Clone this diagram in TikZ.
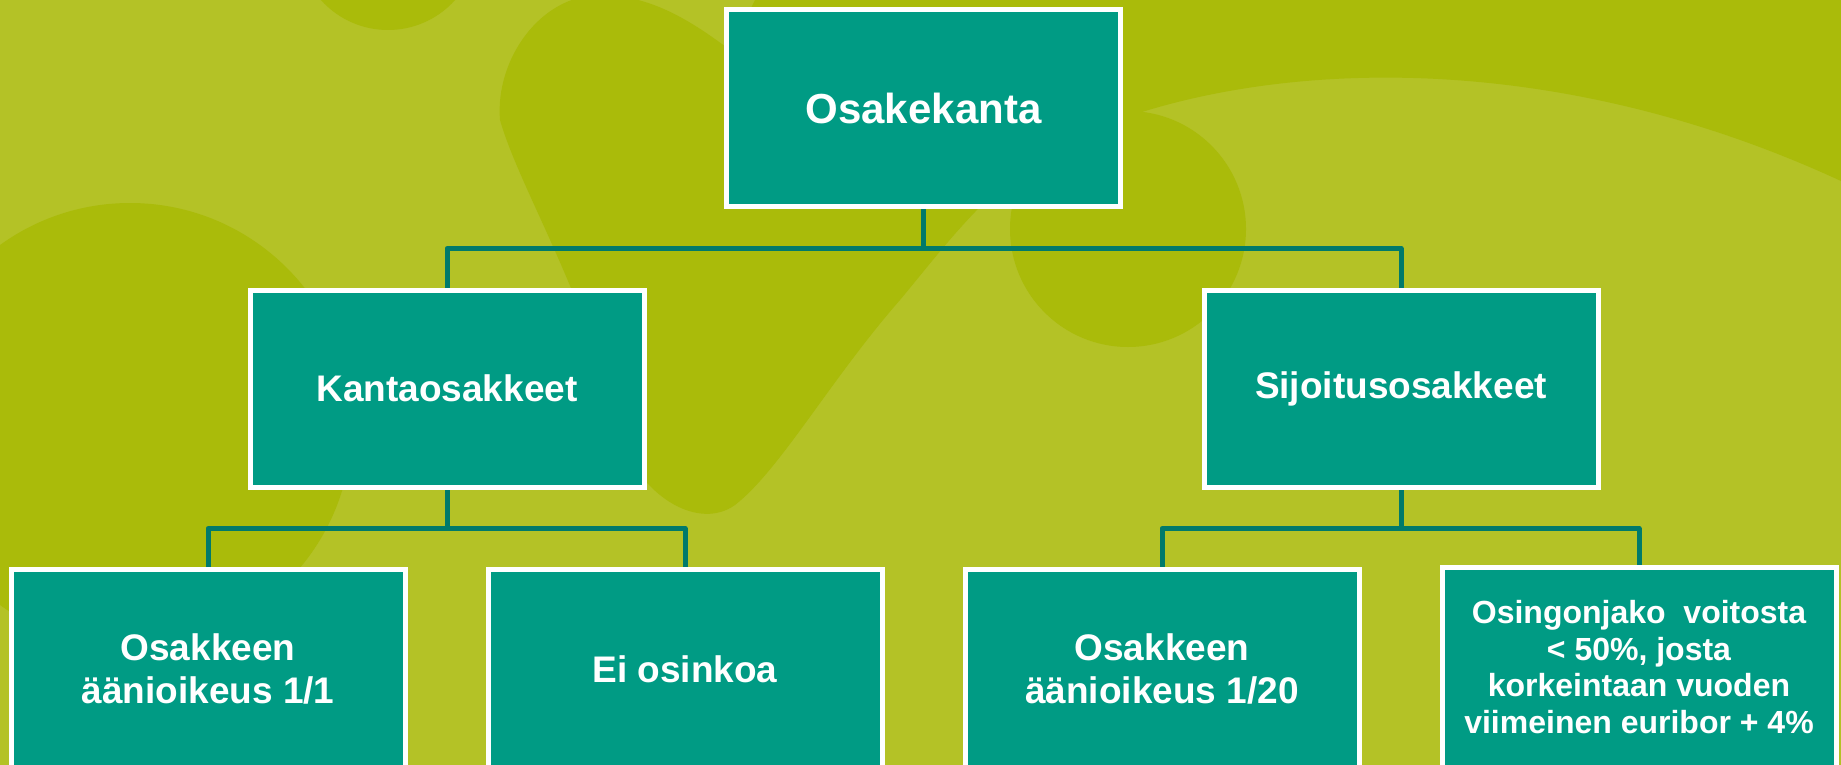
\documentclass[tikz,border=0pt]{standalone}
\usepackage{fontspec}
\setmainfont{Liberation Sans}
\definecolor{bglight}{RGB}{180,194,38}
\definecolor{bgdark}{RGB}{170,187,10}
\definecolor{boxfill}{RGB}{0,155,132}
\definecolor{linkcol}{RGB}{0,122,106}
\pgfdeclarelayer{bg}
\pgfdeclarelayer{links}
\pgfsetlayers{bg,links,main}
\begin{document}
\begin{tikzpicture}[x=0.5pt,y=-0.5pt,
  orgbox/.style={draw=white, line width=2.5pt, fill=boxfill, text=white,
    minimum width=197pt, minimum height=98.5pt, inner sep=0pt, align=center,
    font=\bfseries\fontsize{18.5}{21.5}\selectfont},
  topbox/.style={orgbox, font=\bfseries\fontsize{21}{25}\selectfont},
  lowbox/.style={orgbox, minimum height=100pt},
  smallbox/.style={lowbox, font=\bfseries\fontsize{16}{18.2}\selectfont},
  link/.style={draw=linkcol, line width=2.5pt, line join=round}]
\useasboundingbox (0,0) rectangle (1841,765);

\begin{pgfonlayer}{bg}
  \fill[bglight] (0,0) rectangle (1841,765);
  % decorative darker blobs
  \fill[bgdark] (388,-60) circle[radius=90];
  \fill[bgdark] (130,425) circle[radius=222];
  \fill[bgdark] (600,-5) .. controls (540,-5) and (495,60) .. (500,120)
    .. controls (520,190) and (590,300) .. (620,440)
    .. controls (645,500) and (700,530) .. (735,505)
    .. controls (780,470) and (830,380) .. (900,300)
    .. controls (950,240) and (1000,170) .. (1080,135)
    .. controls (1250,60) and (1550,40) .. (1860,190)
    -- (1860,-10) -- (760,-10) -- (730,50)
    .. controls (690,20) and (650,-5) .. (600,-5) -- cycle;
  \fill[bgdark] (1128,229) circle[radius=118];
\end{pgfonlayer}

% boxes
\node[topbox] (top) at (923.5,108) {Osakekanta};
\node[orgbox] (kanta) at (447,388.5) {Kantaosakkeet};
\node[orgbox] (sijo) at (1401,388.5) {Sijoitusosakkeet};
\node[lowbox] (b1) at (208,669) {Osakkeen\\äänioikeus 1/1};
\node[lowbox] (b2) at (685,669) {Ei osinkoa};
\node[lowbox] (b3) at (1162,669) {Osakkeen\\äänioikeus 1/20};
\node[smallbox] (b4) at (1639,667) {Osingonjako~ voitosta\\< 50\%, josta\\korkeintaan vuoden\\viimeinen euribor + 4\%};

% connectors
\begin{pgfonlayer}{links}
  \draw[link] (top.south) -- ++(0,39.5) coordinate (bus1);
  \draw[link] (kanta.north) |- (bus1) -| (sijo.north);
  \draw[link] (kanta.south) -- ++(0,39) coordinate (bus2);
  \draw[link] (b1.north) |- (bus2) -| (b2.north);
  \draw[link] (sijo.south) -- ++(0,39) coordinate (bus3);
  \draw[link] (b3.north) |- (bus3) -| (b4.north);
\end{pgfonlayer}
\end{tikzpicture}
\end{document}
